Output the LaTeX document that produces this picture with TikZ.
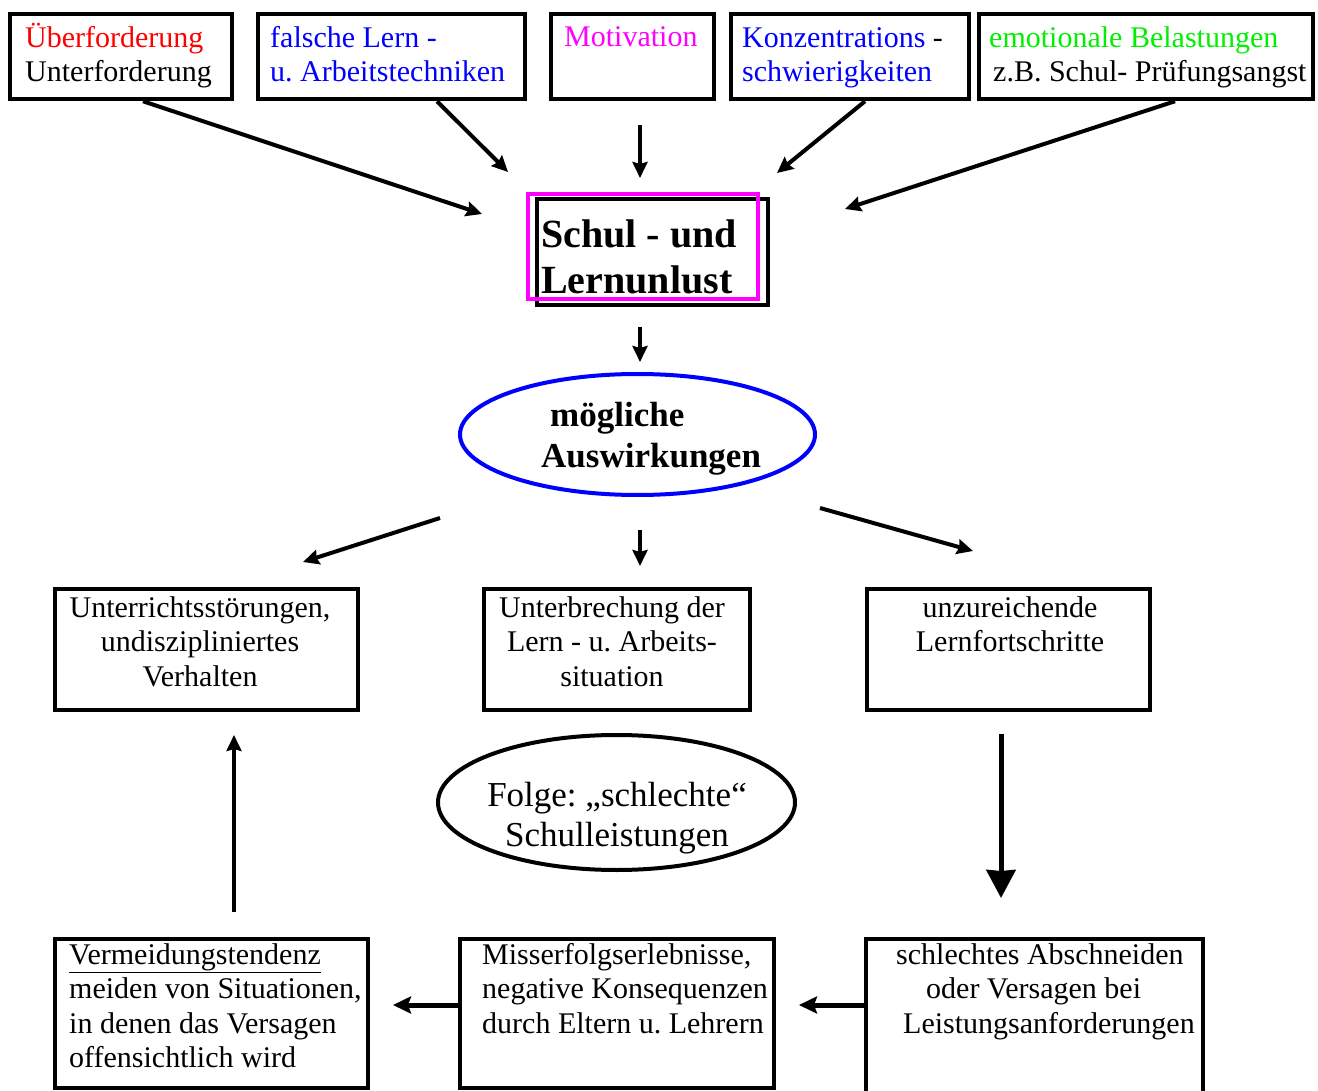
\documentclass[tikz,border=0pt]{standalone}
\usepackage{fontspec}
\setmainfont{Liberation Serif}
\usetikzlibrary{arrows.meta,shapes.geometric}
\definecolor{myred}{RGB}{255,0,0}
\definecolor{myblue}{RGB}{0,0,255}
\definecolor{mymag}{RGB}{255,0,255}
\definecolor{mygreen}{RGB}{0,240,0}
\frenchspacing
\begin{document}
\begin{tikzpicture}[x=1pt,y=-1pt,
  box/.style={draw, line width=4.5pt, rectangle, inner sep=0pt},
  txt/.style={inner sep=0pt, font=\fontsize{30}{34.5}\selectfont},
  conn/.style={line width=4pt, -{Stealth[length=16pt,width=15pt,inset=2pt]}},
  bigconn/.style={line width=5pt, -{Stealth[length=28pt,width=29pt,inset=1pt]}},
  hconn/.style={line width=5pt, -{Stealth[length=18pt,width=17pt,inset=3pt]}},
]
\useasboundingbox (0,0) rectangle (1318,1091);
\fill[white] (0,0) rectangle (1318,1091);

% top row boxes
\node[box, minimum width=222pt, minimum height=85pt] (b1) at (121,56.5) {};
\node[box, minimum width=267pt, minimum height=85pt] (b2) at (391.5,56.5) {};
\node[box, minimum width=163pt, minimum height=85pt] (b3) at (632.5,56.5) {};
\node[box, minimum width=238pt, minimum height=85pt] (b4) at (850,56.5) {};
\node[box, minimum width=334pt, minimum height=85pt] (b5) at (1146,56.5) {};

% (base anchor of a multi-line node = baseline of its last line)
\node[txt, anchor=base west, align=left] (t1) at (25,82) {\textcolor{myred}{Überforderung}\\Unterforderung};
\node[txt, anchor=base west, align=left, text=myblue] (t2) at (270,82) {falsche Lern -\\u. Arbeitstechniken};
\node[txt, anchor=base west, align=left, text=mymag] (t3) at (564,47) {Motivation};
\node[txt, anchor=base west, align=left] (t4) at (742,82) {\textcolor{myblue}{Konzentrations} -\\\textcolor{myblue}{schwierigkeiten}};
\node[txt, anchor=base west, align=left] (t5) at (989,82) {\textcolor{mygreen}{emotionale Belastungen}\\\hspace*{4pt}z.B. Schul- Prüfungsangst};

% central box
\node[box, minimum width=231pt, minimum height=106pt] (cb) at (652.5,252) {};
\node[draw=mymag, line width=3.5pt, rectangle, inner sep=0pt, minimum width=230pt, minimum height=105pt] (cm) at (643,246.5) {};
\node[inner sep=0pt, anchor=base west, align=left, font=\fontsize{40}{46}\selectfont\bfseries] (ct) at (541,294) {Schul - und\\Lernunlust};

% ellipse
\node[draw=myblue, line width=4pt, ellipse, inner sep=0pt, minimum width=355pt, minimum height=121pt] (el) at (637.5,434.5) {};
\node[inner sep=0pt, anchor=base west, align=left, font=\fontsize{35}{40}\selectfont\bfseries] (elt) at (541,467) {\hspace*{9pt}mögliche\\Auswirkungen};

% middle row
\node[box, minimum width=303pt, minimum height=121pt] (mA) at (206.5,649.5) {};
\node[box, minimum width=266pt, minimum height=121pt] (mB) at (617,649.5) {};
\node[box, minimum width=283pt, minimum height=121pt] (mC) at (1008.5,649.5) {};
\node[txt, anchor=base, align=center] (tA) at (200,686) {Unterrichtsstörungen,\\undiszipliniertes\\Verhalten};
\node[txt, anchor=base, align=center] (tB) at (612,686) {Unterbrechung der\\Lern - u. Arbeits-\\situation};
\node[txt, anchor=base, align=center] (tC) at (1010,651.5) {unzureichende\\Lernfortschritte};

% Folge ellipse
\node[draw, line width=4pt, ellipse, inner sep=0pt, minimum width=357pt, minimum height=135pt] (fe) at (616.5,802.5) {};
\node[inner sep=0pt, anchor=base, align=center, font=\fontsize{35}{40}\selectfont] (fet) at (617,846) {Folge: „schlechte“\\Schulleistungen};

% bottom row
\node[box, minimum width=313pt, minimum height=149pt] (bD) at (211.5,1013.5) {};
\node[box, minimum width=314pt, minimum height=149pt] (bE) at (617,1013.5) {};
\node[box, minimum width=337pt, minimum height=171pt] (bF) at (1034.5,1024.5) {};
\node[txt, anchor=base west, align=left] (tD) at (69,1067.5) {\underline{Vermeidungstendenz}\\meiden von Situationen,\\in denen das Versagen\\offensichtlich wird};
\node[txt, anchor=base west, align=left] (tE) at (482,1033) {Misserfolgserlebnisse,\\negative Konsequenzen\\durch Eltern u. Lehrern};
\node[txt, anchor=base west, align=left] (tF) at (896,1033) {schlechtes Abschneiden\\\hspace*{30pt}oder Versagen bei\\\hspace*{7pt}Leistungsanforderungen};

% free arrow ends
\coordinate (e1) at (482,214);
\coordinate (e2) at (508,172);
\coordinate (s3) at (640,125);
\coordinate (e3) at (640,178);
\coordinate (e4) at (777,173);
\coordinate (e5) at (845,209);
\coordinate (s6) at (640,327);
\coordinate (e6) at (640,362);
\coordinate (s7) at (440,518);
\coordinate (e7) at (303,562);
\coordinate (s8) at (640,530);
\coordinate (e8) at (640,566);
\coordinate (s9) at (820,508);
\coordinate (e9) at (973,551);
\coordinate (s10) at (1001,734);
\coordinate (e10) at (1001,898);
\coordinate (s11) at (234,912);
\coordinate (e11) at (234,735);
\coordinate (e12) at (799,1005);
\coordinate (e13) at (393,1005);

\draw[conn] ([xshift=22pt]b1.south) -- (e1);
\draw[conn] ([xshift=45.5pt]b2.south) -- (e2);
\draw[conn] (s3) -- (e3);
\draw[conn] ([xshift=15pt]b4.south) -- (e4);
\draw[conn] ([xshift=29pt]b5.south) -- (e5);
\draw[conn] (s6) -- (e6);
\draw[conn] (s7) -- (e7);
\draw[conn] (s8) -- (e8);
\draw[conn] (s9) -- (e9);
\draw[bigconn] (s10) -- (e10);
\draw[conn] (s11) -- (e11);
\draw[hconn] ([yshift=19.5pt]bF.west) -- (e12);
\draw[hconn] ([yshift=8.5pt]bE.west) -- (e13);
\end{tikzpicture}
\end{document}
